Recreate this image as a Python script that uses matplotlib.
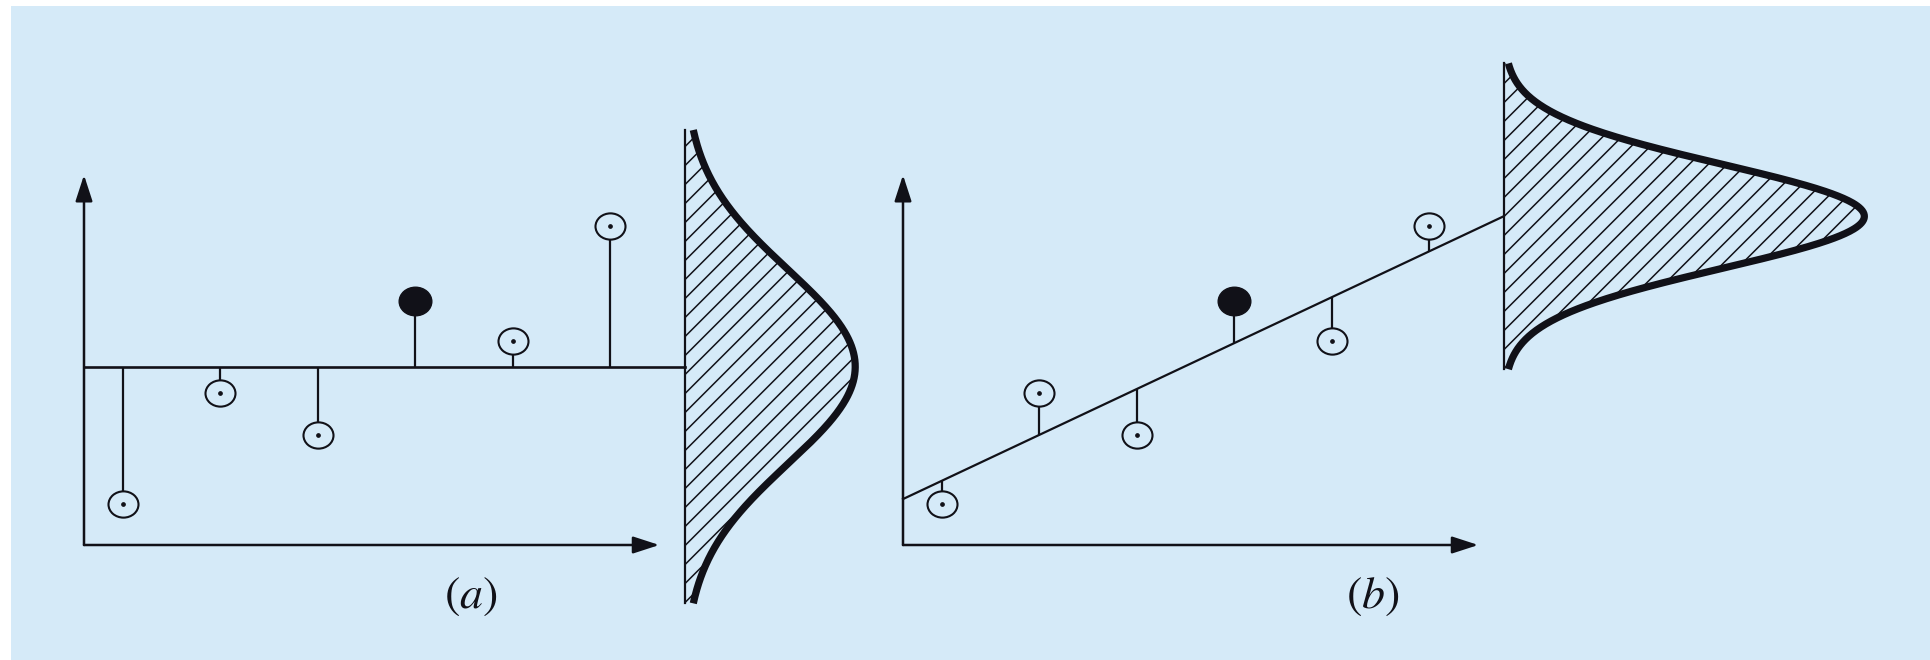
import numpy as np
import matplotlib.pyplot as plt
from matplotlib.patches import Polygon, Rectangle
from matplotlib.path import Path
from matplotlib.transforms import Affine2D

# six observations, same points in both panels
obs_x = [1, 2, 3, 4, 5, 6]
obs_y = [4.1, 15.2, 11.0, 24.4, 20.4, 31.9]
filled_idx = 3            # the solid point

# straight line of panel (b)
line_b_intercept = 1.84
line_b_slope = 4.59

# normal curves: sigma, peak height, extent in sigmas
bell_a = (9.7, 1.75, 2.44)
bell_b = (5.2, 3.70, 2.94)

panel_labels = ['(a)', '(b)']

# ---- layout ----
W, H = 1931, 660
PX_X, PX_Y = 97.5, 10.0       # pixels per data unit
Y0_PX = 545                   # pixel row of y = 0
LEFT_PX = [123, 942]          # pixel column of obs 1 in each panel
X0, XEND, XBELL, YTOP = 0.6, 6.5, 6.76, 37.0

bg = '#D5EAF8'
ink = '#111118'

plt.rcParams['mathtext.fontset'] = 'stix'

fig = plt.figure(figsize=(W / 100, H / 100), dpi=100)
fig.patch.set_facecolor('white')
fig.patches.append(Rectangle((11 / W, 0), 1, 1 - 6 / H, transform=fig.transFigure,
                             facecolor=bg, edgecolor='none', zorder=-10))

ell = Path.unit_circle().transformed(Affine2D().scale(1, 0.875))
arrow = dict(arrowstyle='-|>,head_length=0.8,head_width=0.26', mutation_scale=20,
             color=ink, lw=1.8, shrinkA=0, shrinkB=0)

for i, left in enumerate(LEFT_PX):
    ax = fig.add_axes([0, 0, 1, 1])
    ax.set_xlim(1 - left / PX_X, 1 + (W - left) / PX_X)
    ax.set_ylim(-(H - Y0_PX) / PX_Y, Y0_PX / PX_Y)
    ax.axis('off')
    ax.patch.set_alpha(0)

    # axes arrows
    ax.annotate('', xy=(XEND, 0), xytext=(X0, 0), arrowprops=arrow)
    ax.annotate('', xy=(X0, YTOP), xytext=(X0, 0), arrowprops=arrow)

    x = np.array(obs_x, dtype=float)
    y = np.array(obs_y)
    if i == 0:
        ref = np.full_like(x, np.mean(y))
        ax.plot([X0, XBELL], [ref[0], ref[0]], color=ink, lw=1.9)
        yc = ref[0]
        sigma, peak, k = bell_a
    else:
        ref = line_b_intercept + line_b_slope * x
        ax.plot([X0, XBELL], [line_b_intercept + line_b_slope * X0,
                              line_b_intercept + line_b_slope * XBELL], color=ink, lw=1.6)
        yc = line_b_intercept + line_b_slope * XBELL
        sigma, peak, k = bell_b

    # stems and points
    ax.vlines(x, ref, y, color=ink, lw=1.6, zorder=2)
    open_idx = [j for j in range(len(x)) if j != filled_idx]
    ax.plot(x[open_idx], y[open_idx], ls='none', marker=ell, ms=21.6,
            mfc=bg, mec=ink, mew=1.5, zorder=3)
    ax.plot(x[open_idx], y[open_idx], ls='none', marker='o', ms=2.4,
            color=ink, zorder=4)
    ax.plot(x[filled_idx], y[filled_idx], ls='none', marker=ell, ms=23.5,
            color=ink, zorder=3)

    # normal curve with hatching
    t = np.linspace(-k * sigma, k * sigma, 400)
    xs = XBELL + peak * np.exp(-0.5 * (t / sigma) ** 2)
    ys = yc + t
    poly = Polygon(np.column_stack([np.r_[XBELL, xs, XBELL],
                                    np.r_[ys[0], ys, ys[-1]]]),
                   closed=True, facecolor='none', edgecolor='none')
    ax.add_patch(poly)
    slope = 1.0 * PX_X / PX_Y
    for c in np.arange(ys[0] - slope * peak, ys[-1] + 2, 1.9):
        ln, = ax.plot([XBELL, XBELL + peak + 0.1], [c, c + slope * (peak + 0.1)],
                      color=ink, lw=1.1)
        ln.set_clip_path(poly)
    ax.plot([XBELL, XBELL], [ys[0], ys[-1]], color=ink, lw=1.6)
    ax.plot(xs, ys, color=ink, lw=5.2, solid_capstyle='butt', zorder=5)

    # panel label
    lx = 1 + ([471, 1373][i] - left) / PX_X
    ax.text(lx, -5.1, '$' + panel_labels[i] + '$', fontsize=33, color=ink,
            ha='center', va='center')

fig.savefig('out.png', dpi=100, facecolor=fig.get_facecolor())
